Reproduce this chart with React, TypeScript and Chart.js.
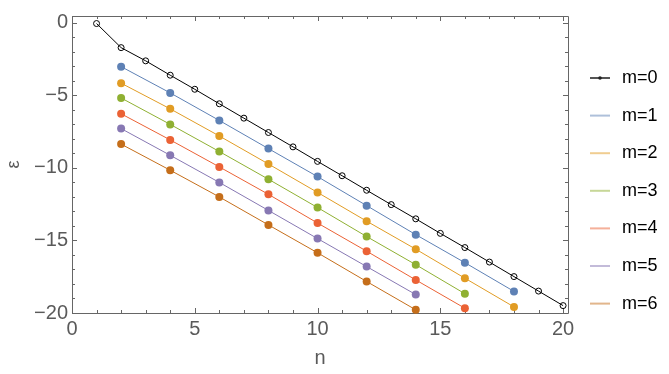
import { useEffect, useRef } from "react";
import { Chart, registerables } from "chart.js";

Chart.register(...registerables);

// ---- data ----
const nAll = [1, 2, 3, 4, 5, 6, 7, 8, 9, 10, 11, 12, 13, 14, 15, 16, 17, 18, 19, 20];
const nTo18 = [2, 4, 6, 8, 10, 12, 14, 16, 18];
const nTo16 = [2, 4, 6, 8, 10, 12, 14, 16];
const nTo14 = [2, 4, 6, 8, 10, 12, 14];

const m0 = [-0.05, -1.71, -2.62, -3.61, -4.58, -5.58, -6.57, -7.56, -8.55, -9.55, -10.54, -11.54, -12.53, -13.51, -14.51, -15.49, -16.49, -17.49, -18.49, -19.49];
const m1 = [-3.02, -4.83, -6.73, -8.67, -10.6, -12.6, -14.6, -16.53, -18.51];
const m2 = [-4.16, -5.93, -7.8, -9.73, -11.69, -13.67, -15.6, -17.6, -19.58];
const m3 = [-5.18, -7.0, -8.87, -10.78, -12.73, -14.73, -16.67, -18.67];
const m4 = [-6.27, -8.07, -9.93, -11.82, -13.8, -15.74, -17.72, -19.67];
const m5 = [-7.29, -9.13, -11.0, -12.93, -14.87, -16.8, -18.73];
const m6 = [-8.36, -10.16, -12.0, -13.93, -15.85, -17.83, -19.78];

const seriesLabels = ["m=0", "m=1", "m=2", "m=3", "m=4", "m=5", "m=6"];
const xTicks = [0, 5, 10, 15, 20];
const yTicks = [-20, -15, -10, -5, 0];

const colors = ["#000000", "#5E81B5", "#E19C24", "#8FB032", "#EB6235", "#8778B3", "#C56E1A"];
const legendColors = ["#555555", "rgba(94,129,181,0.5)", "rgba(225,156,36,0.5)", "rgba(143,176,50,0.5)", "rgba(235,98,53,0.5)", "rgba(135,120,179,0.5)", "rgba(197,110,26,0.5)"];

const AXIS = "#666666";
const LABEL = "#5a5a5a";
const FONT = "'Liberation Sans', Arial, sans-serif";

const toPts = (xs: number[], ys: number[]) => xs.map((x, i) => ({ x, y: ys[i] }));

const framePlugin = {
  id: "frame",
  beforeDatasetsDraw(chart: any) {
    const { ctx, chartArea, scales } = chart;
    const { left, right, top, bottom } = chartArea;
    const x = scales.x;
    const y = scales.y;
    ctx.save();
    ctx.strokeStyle = AXIS;
    ctx.lineWidth = 1;
    ctx.beginPath();
    ctx.rect(Math.round(left) + 0.5, Math.round(top) + 0.5, Math.round(right - left), Math.round(bottom - top));
    for (let v = 0; v <= 20; v++) {
      const px = Math.round(x.getPixelForValue(v)) + 0.5;
      const len = v % 5 === 0 ? 5 : 3;
      ctx.moveTo(px, bottom);
      ctx.lineTo(px, bottom - len);
      ctx.moveTo(px, top);
      ctx.lineTo(px, top + len);
    }
    for (let v = -20; v <= 0; v++) {
      const py = Math.round(y.getPixelForValue(v)) + 0.5;
      const len = v % 5 === 0 ? 5 : 3;
      ctx.moveTo(left, py);
      ctx.lineTo(left + len, py);
      ctx.moveTo(right, py);
      ctx.lineTo(right - len, py);
    }
    ctx.stroke();
    ctx.restore();
  },
};

const legendPlugin = {
  id: "customLegend",
  afterDraw(chart: any) {
    const { ctx } = chart;
    ctx.save();
    ctx.font = `18px ${FONT}`;
    ctx.textBaseline = "middle";
    ctx.textAlign = "left";
    seriesLabels.forEach((lab, i) => {
      const cy = 78 + i * 37.6;
      ctx.strokeStyle = legendColors[i];
      ctx.lineWidth = 2;
      ctx.beginPath();
      ctx.moveTo(590, cy);
      ctx.lineTo(610, cy);
      ctx.stroke();
      if (i === 0) {
        ctx.fillStyle = "#222";
        ctx.beginPath();
        ctx.arc(600, cy, 1.8, 0, Math.PI * 2);
        ctx.fill();
      }
      ctx.fillStyle = "#000";
      ctx.fillText(lab, 622, cy);
    });
    ctx.restore();
  },
};

export default function App() {
  const ref = useRef<HTMLCanvasElement | null>(null);
  useEffect(() => {
    if (!ref.current) return;
    const datasets: any[] = [
      {
        label: seriesLabels[0],
        data: toPts(nAll, m0),
        borderColor: colors[0],
        borderWidth: 1,
        pointRadius: 3,
        pointBorderWidth: 1,
        pointBorderColor: colors[0],
        pointBackgroundColor: "rgba(0,0,0,0)",
        clip: false,
      },
    ];
    const rest = [
      [nTo18, m1],
      [nTo18, m2],
      [nTo16, m3],
      [nTo16, m4],
      [nTo14, m5],
      [nTo14, m6],
    ] as [number[], number[]][];
    rest.forEach(([xs, ys], i) => {
      datasets.push({
        label: seriesLabels[i + 1],
        data: toPts(xs, ys),
        borderColor: colors[i + 1],
        borderWidth: 1,
        pointRadius: 4,
        pointBorderWidth: 0,
        pointBackgroundColor: colors[i + 1],
        clip: false,
      });
    });
    datasets.reverse();
    const chart = new Chart(ref.current, {
      type: "line",
      data: { datasets },
      options: {
        animation: false,
        responsive: false,
        layout: { padding: { top: 6, right: 101, left: 0, bottom: 0 } },
        plugins: { legend: { display: false }, tooltip: { enabled: false } },
        scales: {
          x: {
            type: "linear",
            min: 0,
            max: 20.2,
            grid: { display: false, drawTicks: false },
            border: { display: false },
            afterBuildTicks: (s: any) => {
              s.ticks = xTicks.map((v) => ({ value: v }));
            },
            afterFit: (s: any) => {
              s.height = 61;
            },
            ticks: { font: { size: 20, family: FONT }, color: LABEL, padding: 4, maxRotation: 0 },
            title: { display: true, text: "n", font: { size: 20, family: FONT }, color: LABEL, padding: { top: 0, bottom: 4 } },
          },
          y: {
            type: "linear",
            min: -20,
            max: 0.47,
            grid: { display: false, drawTicks: false },
            border: { display: false },
            afterBuildTicks: (s: any) => {
              s.ticks = yTicks.map((v) => ({ value: v }));
            },
            afterFit: (s: any) => {
              s.width = 72;
            },
            ticks: {
              font: { size: 20, family: FONT },
              color: LABEL,
              padding: 4,
              callback: (v: any) => (v < 0 ? "\u2212" + Math.abs(v) : String(v)),
            },
            title: { display: true, text: "ε", font: { size: 18, family: FONT }, color: LABEL, padding: { top: 3, bottom: 0 } },
          },
        },
      },
      plugins: [framePlugin, legendPlugin],
    });
    return () => chart.destroy();
  }, []);
  return (
    <div style={{ position: "fixed", left: 0, top: 0, width: 669, height: 374, background: "#fff" }}>
      <canvas ref={ref} width={669} height={374} style={{ display: "block" }} />
    </div>
  );
}
